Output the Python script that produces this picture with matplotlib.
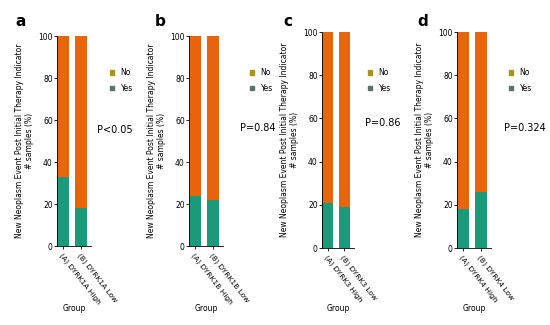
import matplotlib.pyplot as plt
from matplotlib.patches import Patch

panels = ["a", "b", "c", "d"]
genes = ["DYRK1A", "DYRK1B", "DYRK3", "DYRK4"]
yes_high = [33, 24, 21, 18]
yes_low = [18, 22, 19, 26]
pvals = ["P<0.05", "P=0.84", "P=0.86", "P=0.324"]

yes_color = "#1a9a78"
no_color = "#e8650c"

fig = plt.figure(figsize=(5.5, 3.25), dpi=100)

# axes placement in pixels: left, top, bottom, width
boxes = [(57, 36, 246, 34), (189, 36, 246, 34), (322, 32, 248, 32), (457, 32, 248, 34)]
letter_x = [15, 155, 283, 417]
legend_x = [109, 249, 367, 508]
pval_x = [97, 240, 365, 504]
pval_y = [130, 128, 123, 128]

for i in range(4):
    left, top, bot, w = boxes[i]
    h = bot - top
    ax = fig.add_axes([left / 550, 1 - bot / 325, w / 550, h / 325])
    yes = [yes_high[i], yes_low[i]]
    no = [100 - v for v in yes]
    x = [0, 1]
    ax.bar(x, yes, width=0.68, color=yes_color)
    ax.bar(x, no, bottom=yes, width=0.68, color=no_color)
    ax.set_xlim(-0.34, 1.58)
    ax.set_ylim(0, 100)
    ax.set_yticks([0, 20, 40, 60, 80, 100])
    ax.tick_params(axis="y", labelsize=5.5, length=2, width=0.6, pad=1)
    ax.set_xticks(x)
    ax.set_xticklabels(["(A) " + genes[i] + " High", "(B) " + genes[i] + " Low"],
                       rotation=-52, ha="left", rotation_mode="anchor", fontsize=5.4)
    ax.tick_params(axis="x", length=2, width=0.6, pad=2)
    for s in ["top", "right"]:
        ax.spines[s].set_visible(False)
    for s in ["left", "bottom"]:
        ax.spines[s].set_linewidth(0.6)
    ax.set_ylabel("New Neoplasm Event Post Initial Therapy Indicator\n# samples (%)",
                  fontsize=5.5, labelpad=3)
    ax.set_xlabel("Group", fontsize=5.5)
    ax.xaxis.set_label_coords(0.5, (bot - 304) / h)
    handles = [Patch(color="#a8961c", label="No"), Patch(color="#56736c", label="Yes")]
    ax.legend(handles=handles, loc="upper left",
              bbox_to_anchor=((legend_x[i] - 3 - left) / w, (bot - 64) / h),
              frameon=False, fontsize=5.5, handlelength=0.6, handleheight=0.6,
              handletextpad=0.8, labelspacing=0.9, borderpad=0)
    ax.text((pval_x[i] - left) / w, (bot - pval_y[i]) / h, pvals[i],
            transform=ax.transAxes, fontsize=7, va="center")
    fig.text(letter_x[i] / 550, 1 - 22 / 325, panels[i], fontsize=11, fontweight="bold",
             va="center")

fig.savefig("out.png", dpi=100)
